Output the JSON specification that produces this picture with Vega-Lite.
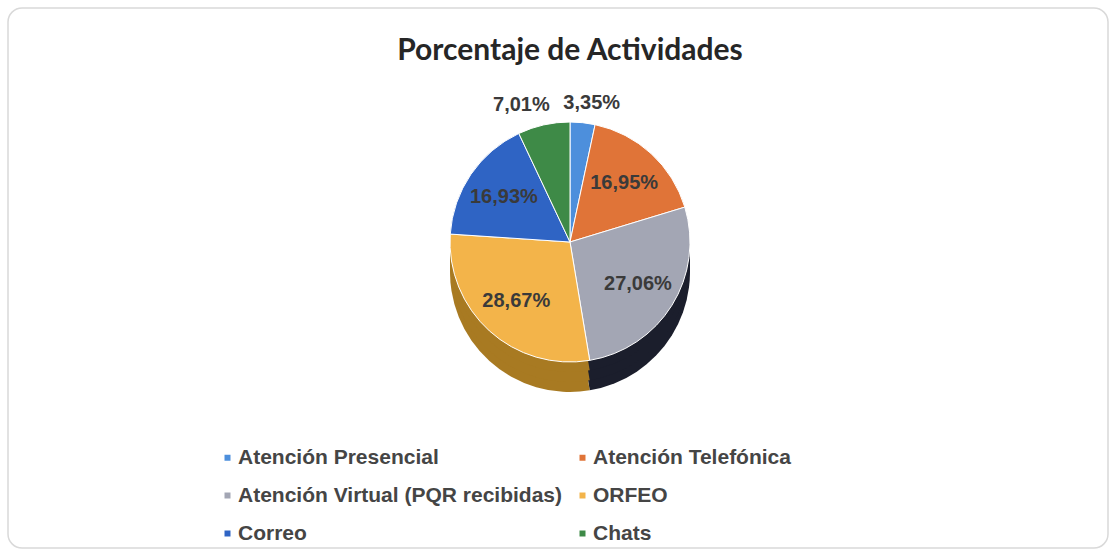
{
  "$schema": "https://vega.github.io/schema/vega-lite/v6.json",
  "autosize": "none",
  "width": 1100,
  "height": 540,
  "padding": {"left": 8, "top": 8, "right": 8, "bottom": 7},
  "background": "white",
  "view": {"stroke": "#d9d9d9", "strokeWidth": 1.5, "cornerRadius": 14, "fill": "white"},
  "title": {
    "text": "Porcentaje de Actividades",
    "font": "Lato",
    "fontSize": 30,
    "fontWeight": "bold",
    "color": "#262626",
    "anchor": "middle",
    "offset": -58,
    "dx": 12
  },
  "config": {
    "locale": {"number": {"decimal": ",", "thousands": ".", "grouping": [3], "currency": ["", ""]}},
    "legend": {
      "orient": "none",
      "legendX": 209,
      "legendY": 439,
      "columns": 2,
      "direction": "horizontal",
      "columnPadding": 9,
      "rowPadding": 16,
      "padding": 0,
      "symbolType": "square",
      "symbolSize": 36,
      "symbolStrokeWidth": 0,
      "labelOffset": 0,
      "labelFont": "Liberation Sans",
      "labelFontSize": 21,
      "labelFontWeight": "bold",
      "labelColor": "#454545",
      "labelLimit": 400,
      "title": null
    }
  },
  "data": {
    "values": [
      {"category": "Atención Presencial", "value": 0.0335, "order": 1},
      {"category": "Atención Telefónica", "value": 0.1695, "order": 2},
      {"category": "Atención Virtual (PQR recibidas)", "value": 0.2706, "order": 3},
      {"category": "ORFEO", "value": 0.2867, "order": 4},
      {"category": "Correo", "value": 0.1693, "order": 5},
      {"category": "Chats", "value": 0.0701, "order": 6}
    ]
  },
  "encoding": {
    "theta": {"field": "value", "type": "quantitative", "stack": true},
    "order": {"field": "order", "type": "quantitative"}
  },
  "layer": [
    {
      "mark": {"type": "arc", "outerRadius": 120, "xOffset": 12, "yOffset": -6},
      "encoding": {
        "color": {"field": "category", "type": "nominal", "legend": null,
          "scale": {"domain": ["Atención Presencial", "Atención Telefónica", "Atención Virtual (PQR recibidas)", "ORFEO", "Correo", "Chats"],
                    "range": ["#2c5c99", "#9c4c22", "#1b1e2c", "#a87a22", "#1d4088", "#285c2e"]}}
      }
    },
    {
      "mark": {"type": "arc", "outerRadius": 120, "xOffset": 12, "yOffset": -16},
      "encoding": {
        "color": {"field": "category", "type": "nominal", "legend": null,
          "scale": {"domain": ["Atención Presencial", "Atención Telefónica", "Atención Virtual (PQR recibidas)", "ORFEO", "Correo", "Chats"],
                    "range": ["#2c5c99", "#9c4c22", "#1b1e2c", "#a87a22", "#1d4088", "#285c2e"]}}
      }
    },
    {
      "mark": {"type": "arc", "outerRadius": 120, "xOffset": 12, "yOffset": -26},
      "encoding": {
        "color": {"field": "category", "type": "nominal", "legend": null,
          "scale": {"domain": ["Atención Presencial", "Atención Telefónica", "Atención Virtual (PQR recibidas)", "ORFEO", "Correo", "Chats"],
                    "range": ["#2c5c99", "#9c4c22", "#1b1e2c", "#a87a22", "#1d4088", "#285c2e"]}}
      }
    },
    {
      "mark": {"type": "arc", "outerRadius": 120, "xOffset": 12, "yOffset": -36, "stroke": "white", "strokeWidth": 1},
      "encoding": {
        "color": {"field": "category", "type": "nominal",
          "scale": {"domain": ["Atención Presencial", "Atención Telefónica", "Atención Virtual (PQR recibidas)", "ORFEO", "Correo", "Chats"],
                    "range": ["#4d8fdc", "#e07438", "#a3a6b4", "#f3b44a", "#2f64c4", "#3e8a47"]}}
      }
    },
    {
      "mark": {"type": "text", "radius": 80, "xOffset": 12, "yOffset": -36, "font": "Liberation Sans", "fontSize": 20, "fontWeight": "bold", "color": "#3a3a3a"},
      "encoding": {
        "text": {"condition": {"test": "datum.value > 0.1", "field": "value", "type": "quantitative", "format": ".2%"}, "value": ""}
      }
    },
    {
      "mark": {"type": "text", "radius": 140, "xOffset": 12, "yOffset": -36, "dx": 7, "font": "Liberation Sans", "fontSize": 20, "fontWeight": "bold", "color": "#3a3a3a"},
      "encoding": {
        "text": {"condition": {"test": "datum.category == 'Atención Presencial'", "field": "value", "type": "quantitative", "format": ".2%"}, "value": ""}
      }
    },
    {
      "mark": {"type": "text", "radius": 140, "xOffset": 12, "yOffset": -36, "dx": -18, "font": "Liberation Sans", "fontSize": 20, "fontWeight": "bold", "color": "#3a3a3a"},
      "encoding": {
        "text": {"condition": {"test": "datum.category == 'Chats'", "field": "value", "type": "quantitative", "format": ".2%"}, "value": ""}
      }
    }
  ],
  "resolve": {"scale": {"color": "independent"}}
}
